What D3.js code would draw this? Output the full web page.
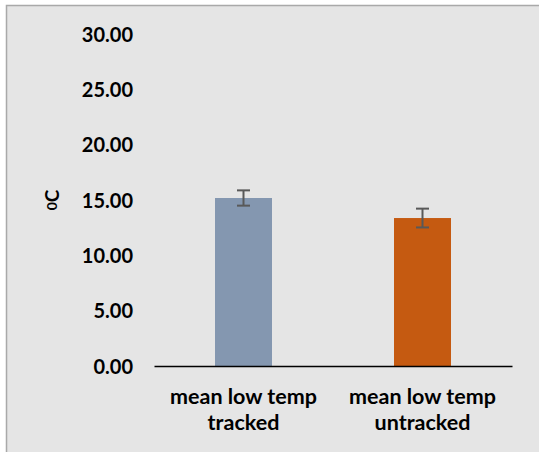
<!DOCTYPE html>
<html>
<head>
<meta charset="utf-8">
<script src="https://cdn.jsdelivr.net/npm/d3@7"></script>
<style>
  html, body { margin: 0; padding: 0; background: #ffffff; }
  svg { display: block; }
  text { font-family: Lato, "Open Sans", sans-serif; font-weight: bold; fill: #000; }
</style>
</head>
<body>
<svg id="chart" width="539" height="452"></svg>
<script>
const categories = [["mean low temp", "tracked"], ["mean low temp", "untracked"]];
const categoryKeys = ["tracked", "untracked"];
const values = [15.18, 13.37];
const errors = [0.69, 0.85];
const barColors = ["#8497b0", "#c55a11"];
const yTicks = [0, 5, 10, 15, 20, 25, 30];

const svg = d3.select("#chart");
const W = 539, H = 452;

// chart area background and frame
svg.append("rect").attr("x", 6.5).attr("y", 5.5).attr("width", W).attr("height", H)
  .attr("fill", "#e5e5e5").attr("stroke", "#a9a9a9").attr("stroke-width", 1.5);

const x = d3.scaleBand().domain(categoryKeys).range([154, 512])
  .paddingInner(0.6816).paddingOuter(0.3408);
const y = d3.scaleLinear().domain([0, 30]).range([366, 34]);

// y tick labels
const yAxis = d3.axisLeft(y).tickValues(yTicks).tickFormat(d3.format(".2f")).tickSize(0).tickPadding(0);
const gy = svg.append("g").attr("transform", "translate(133,0)").call(yAxis);
gy.select(".domain").remove();
gy.selectAll("text").attr("font-size", 20).attr("font-family", "Lato, sans-serif")
  .attr("font-weight", "bold").attr("fill", "#000").attr("dy", "0.36em");

// bars
svg.selectAll("rect.bar").data(values).enter().append("rect")
  .attr("class", "bar")
  .attr("x", (d, i) => x(categoryKeys[i]))
  .attr("width", x.bandwidth())
  .attr("y", d => y(d))
  .attr("height", d => y(0) - y(d))
  .attr("fill", (d, i) => barColors[i]);

// error bars
const eb = svg.append("g").attr("stroke", "#595959").attr("stroke-width", 2);
values.forEach((v, i) => {
  const cx = x(categoryKeys[i]) + x.bandwidth() / 2;
  eb.append("line").attr("x1", cx).attr("x2", cx).attr("y1", y(v + errors[i])).attr("y2", y(v - errors[i]));
  eb.append("line").attr("x1", cx - 6.5).attr("x2", cx + 6.5).attr("y1", y(v + errors[i])).attr("y2", y(v + errors[i]));
  eb.append("line").attr("x1", cx - 6.5).attr("x2", cx + 6.5).attr("y1", y(v - errors[i])).attr("y2", y(v - errors[i]));
});

// x axis line
const xAxis = d3.axisBottom(x).tickSize(0).tickFormat("");
const gx = svg.append("g").attr("transform", `translate(0,${y(0)})`).call(xAxis);
gx.select(".domain").attr("stroke", "#000").attr("stroke-width", 1.5);

// category labels
categories.forEach((lines, i) => {
  const cx = x(categoryKeys[i]) + x.bandwidth() / 2;
  const t = svg.append("text").attr("text-anchor", "middle").attr("font-size", 21.5);
  lines.forEach((ln, j) => {
    t.append("tspan").attr("x", cx).attr("y", 404 + j * 26).text(ln);
  });
});

// y axis title
const title = svg.append("text")
  .attr("transform", "translate(58,200) rotate(-90)")
  .attr("text-anchor", "middle").attr("font-size", 19);
title.append("tspan").attr("font-size", 14).attr("dy", "-0.1em").text("0");
title.append("tspan").attr("dy", "0.1em").text("C");
</script>
</body>
</html>
